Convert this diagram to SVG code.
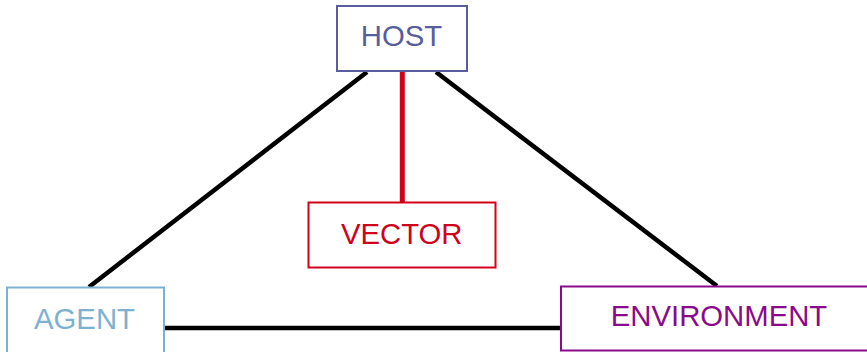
<svg xmlns="http://www.w3.org/2000/svg" width="867" height="352" viewBox="0 0 867 352">
  <style>
    .box { fill: #ffffff; stroke-width: 2; }
    .label { font-family: "Liberation Sans", Arial, sans-serif; font-size: 29.3px; text-anchor: middle; }
    .link { stroke: #000000; stroke-width: 4.5; fill: none; }
  </style>
  <rect width="867" height="352" fill="#ffffff"/>
  <g id="connectors">
    <line class="link" x1="367" y1="72" x2="89" y2="287"/>
    <line class="link" x1="436" y1="72" x2="717" y2="286"/>
    <line class="link" x1="164" y1="328" x2="561" y2="328"/>
    <line x1="402.3" y1="71" x2="402.3" y2="202" stroke="#d0021b" stroke-width="5"/>
  </g>
  <g id="host">
    <rect class="box" x="337" y="6" width="130" height="65" stroke="#585d9d"/>
    <text class="label" x="401.5" y="46" fill="#585d9d">HOST</text>
  </g>
  <g id="vector">
    <rect class="box" x="308.5" y="202.5" width="187" height="65" stroke="#d0021b"/>
    <text class="label" x="401.7" y="243.5" fill="#d0021b">VECTOR</text>
  </g>
  <g id="agent">
    <rect class="box" x="7" y="287.5" width="157" height="66" stroke="#7eb1d0"/>
    <text class="label" x="84.5" y="328.5" fill="#7eb1d0">AGENT</text>
  </g>
  <g id="environment">
    <rect class="box" x="561" y="286.5" width="310" height="64" stroke="#8b0a8b"/>
    <text class="label" x="719" y="326.3" fill="#8b0a8b">ENVIRONMENT</text>
  </g>
</svg>
